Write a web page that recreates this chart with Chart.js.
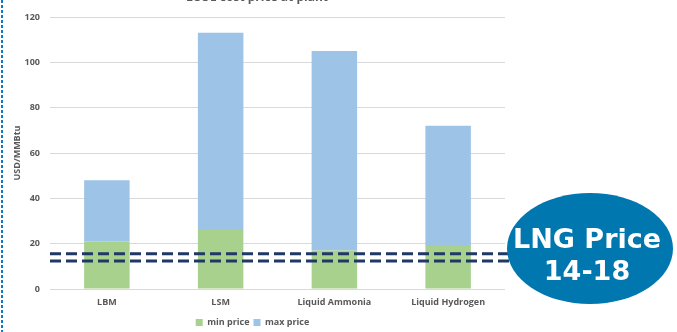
<!DOCTYPE html>
<html><head><meta charset="utf-8">
<script src="https://cdn.jsdelivr.net/npm/chart.js@4/dist/chart.umd.min.js"></script>
<style>html,body{margin:0;padding:0;background:#fff;}#wrap{position:relative;width:677px;height:332px;}</style>
</head><body><div id="wrap"><canvas id="c" width="677" height="332"></canvas></div>
<script>
const categories = ["LBM", "LSM", "Liquid Ammonia", "Liquid Hydrogen"];
const minPrice = [21, 26, 17, 19];
const maxPrice = [48, 113, 105, 72];
const lngLines = [15.6, 12.3];
const yTicks = [0, 20, 40, 60, 80, 100, 120];
const titleText = "LCOE cost price at plant";
const badgeLines = ["LNG Price", "14-18"];

const extraPart = maxPrice.map((m, i) => m - minPrice[i]);
const gray = "#595959";
const font = "'Open Sans', 'Liberation Sans', sans-serif";

const overlay = {
  id: "overlay",
  afterDatasetsDraw(chart) {
    const ctx = chart.ctx, y = chart.scales.y, a = chart.chartArea;
    ctx.save();
    ctx.strokeStyle = "#1f3864";
    ctx.lineWidth = 3;
    ctx.setLineDash([11, 5]);
    lngLines.forEach(v => {
      const py = y.getPixelForValue(v);
      ctx.beginPath(); ctx.moveTo(a.left, py); ctx.lineTo(a.right + 4, py); ctx.stroke();
    });
    ctx.setLineDash([]);
    ctx.strokeStyle = "#0a7cc4";
    ctx.lineWidth = 2;
    ctx.setLineDash([3, 2]);
    ctx.beginPath(); ctx.moveTo(2, 0); ctx.lineTo(2, 332); ctx.stroke();
    ctx.setLineDash([]);
    ctx.fillStyle = gray;
    ctx.font = "bold 12px " + font;
    ctx.textAlign = "center"; ctx.textBaseline = "alphabetic";
    ctx.fillText(titleText, 257, 1);
    ctx.fillStyle = "#0077ae";
    ctx.beginPath(); ctx.ellipse(590, 248.5, 83, 55.5, 0, 0, Math.PI * 2); ctx.fill();
    ctx.fillStyle = "#ffffff";
    ctx.font = "bold 27px 'DejaVu Sans', Verdana, sans-serif";
    ctx.textAlign = "center"; ctx.textBaseline = "middle";
    ctx.fillText(badgeLines[0], 587, 241);
    ctx.fillText(badgeLines[1], 587, 273);
    ctx.restore();
  }
};

new Chart(document.getElementById("c"), {
  type: "bar",
  data: {
    labels: categories,
    datasets: [
      { label: "min price", data: minPrice, backgroundColor: "#a9d18e", barPercentage: 0.4, categoryPercentage: 1.0 },
      { label: "max price", data: extraPart, backgroundColor: "#9dc3e6", barPercentage: 0.4, categoryPercentage: 1.0 }
    ]
  },
  options: {
    responsive: false,
    animation: false,
    devicePixelRatio: 1,
    layout: { padding: { left: 0, right: 172, top: 17, bottom: -5 } },
    plugins: {
      legend: {
        position: "bottom",
        labels: { boxWidth: 7, boxHeight: 7, padding: 4, color: gray, font: { family: font, size: 9, weight: "bold" } }
      },
      tooltip: { enabled: false }
    },
    scales: {
      x: {
        stacked: true,
        grid: { display: false, drawTicks: false },
        border: { display: false },
        ticks: { color: gray, padding: 8, font: { family: font, size: 9, weight: "bold" } },
        afterFit(s) { s.height = 25; }
      },
      y: {
        stacked: true,
        min: 0, max: 120,
        afterBuildTicks(s) { s.ticks = yTicks.map(v => ({ value: v })); },
        grid: { color: "#d9d9d9", drawTicks: false },
        border: { display: false },
        ticks: { color: gray, padding: 10, font: { family: font, size: 9, weight: "bold" } },
        title: { display: true, text: "USD/MMBtu", color: gray, padding: { top: 12, bottom: 0 }, font: { family: font, size: 9, weight: "bold" } },
        afterFit(s) { s.width = 50; }
      }
    }
  },
  plugins: [overlay]
});
</script></body></html>
